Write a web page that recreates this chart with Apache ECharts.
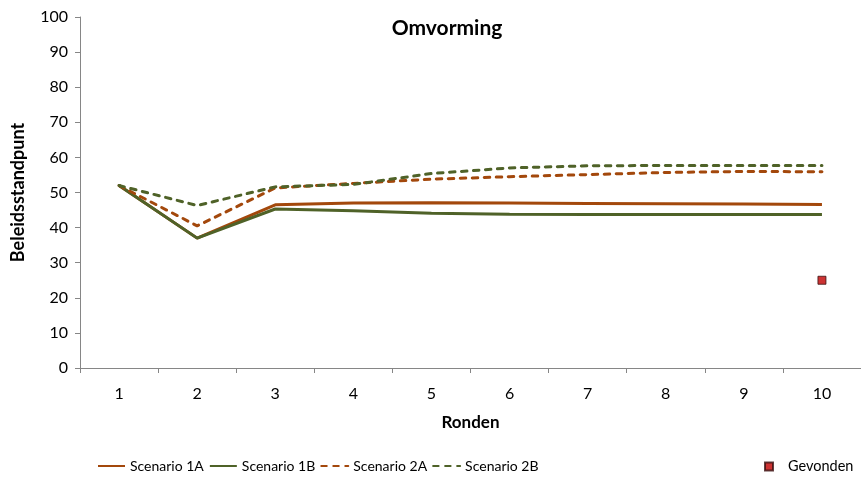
<!DOCTYPE html>
<html>
<head>
<meta charset="utf-8">
<script src="https://cdn.jsdelivr.net/npm/echarts@6/dist/echarts.min.js"></script>
<style>
  html, body { margin: 0; padding: 0; background: #fff; }
  #chart { width: 861px; height: 481px; }
</style>
</head>
<body>
<div id="chart"></div>
<script>
// Rondes (categorieën op de x-as)
const rounds = ['1', '2', '3', '4', '5', '6', '7', '8', '9', '10'];

// Beleidsstandpunt per ronde, per scenario
const scenario1A = [52, 37, 46.5, 47, 47.1, 47, 46.9, 46.8, 46.7, 46.6];
const scenario1B = [52, 37, 45.3, 44.8, 44.1, 43.8, 43.7, 43.7, 43.7, 43.7];
const scenario2A = [52, 40.5, 51.3, 52.6, 53.8, 54.5, 55.1, 55.7, 56, 55.9];
const scenario2B = [52, 46.3, 51.6, 52.3, 55.4, 57, 57.6, 57.7, 57.7, 57.7];

// Gevonden standpunt (alleen in ronde 10)
const gevonden = [null, null, null, null, null, null, null, null, null, 25];

const yTicks = { min: 0, max: 100, interval: 10 };

const ORANGE = '#A3480C';
const GREEN = '#4F6228';
const FONT = 'Lato, "Liberation Sans", sans-serif';

const chart = echarts.init(document.getElementById('chart'));

function lineSeries(name, data, color, dashed) {
  return {
    name: name,
    type: 'line',
    data: data,
    symbol: 'none',
    smooth: false,
    lineStyle: {
      color: color,
      width: 3,
      type: dashed ? [5.5, 6.5] : 'solid',
      cap: dashed ? 'round' : 'butt'
    },
    itemStyle: { color: color },
    emphasis: { disabled: true },
    z: 2
  };
}

chart.setOption({
  animation: false,
  textStyle: { fontFamily: FONT },
  title: {
    text: 'Omvorming',
    left: 442,
    top: 13,
    textAlign: 'center',
    textStyle: { fontFamily: FONT, fontSize: 21, fontWeight: 'bold', color: '#000' }
  },
  grid: { left: 80, right: 0, top: 17, bottom: 113, containLabel: false },
  xAxis: {
    type: 'category',
    data: rounds,
    boundaryGap: true,
    name: 'Ronden',
    nameLocation: 'middle',
    nameGap: 46,
    nameTextStyle: { fontFamily: FONT, fontSize: 17, fontWeight: 'bold', color: '#000' },
    axisLine: { lineStyle: { color: '#868686', width: 1 } },
    axisTick: { show: true, alignWithLabel: false, length: 5, inside: false, lineStyle: { color: '#868686' } },
    axisLabel: { fontFamily: FONT, fontSize: 16, color: '#000', margin: 18 },
    splitLine: { show: false }
  },
  yAxis: {
    type: 'value',
    min: yTicks.min,
    max: yTicks.max,
    interval: yTicks.interval,
    name: 'Beleidsstandpunt',
    nameLocation: 'middle',
    nameGap: 53,
    nameRotate: 90,
    nameTextStyle: { fontFamily: FONT, fontSize: 18, fontWeight: 'bold', color: '#000' },
    axisLine: { show: true, lineStyle: { color: '#868686', width: 1 } },
    axisTick: { show: true, length: 5, lineStyle: { color: '#868686' } },
    axisLabel: { fontFamily: FONT, fontSize: 16, color: '#000', margin: 12 },
    splitLine: { show: false }
  },
  legend: [
    {
      data: ['Scenario 1A', 'Scenario 1B', 'Scenario 2A', 'Scenario 2B'],
      left: 97,
      top: 459,
      padding: 0,
      itemWidth: 27,
      itemHeight: 10,
      itemGap: 5,
      // hide the default marker; only the line sample remains
      itemStyle: { opacity: 0 },
      textStyle: { fontFamily: FONT, fontSize: 14, color: '#000' }
    },
    {
      data: [{ name: 'Gevonden', icon: 'rect' }],
      left: 764,
      top: 459,
      padding: 0,
      itemWidth: 8,
      itemHeight: 8,
      textStyle: { fontFamily: FONT, fontSize: 14.5, color: '#000', padding: [0, 0, 0, 10] }
    }
  ],
  series: [
    lineSeries('Scenario 1A', scenario1A, ORANGE, false),
    lineSeries('Scenario 1B', scenario1B, GREEN, false),
    lineSeries('Scenario 2A', scenario2A, ORANGE, true),
    lineSeries('Scenario 2B', scenario2B, GREEN, true),
    {
      name: 'Gevonden',
      type: 'scatter',
      data: gevonden,
      symbol: 'rect',
      symbolSize: 8,
      itemStyle: { color: '#C00000', borderColor: '#3a1010', borderWidth: 1 },
      emphasis: { disabled: true },
      z: 3
    }
  ]
});
</script>
</body>
</html>
